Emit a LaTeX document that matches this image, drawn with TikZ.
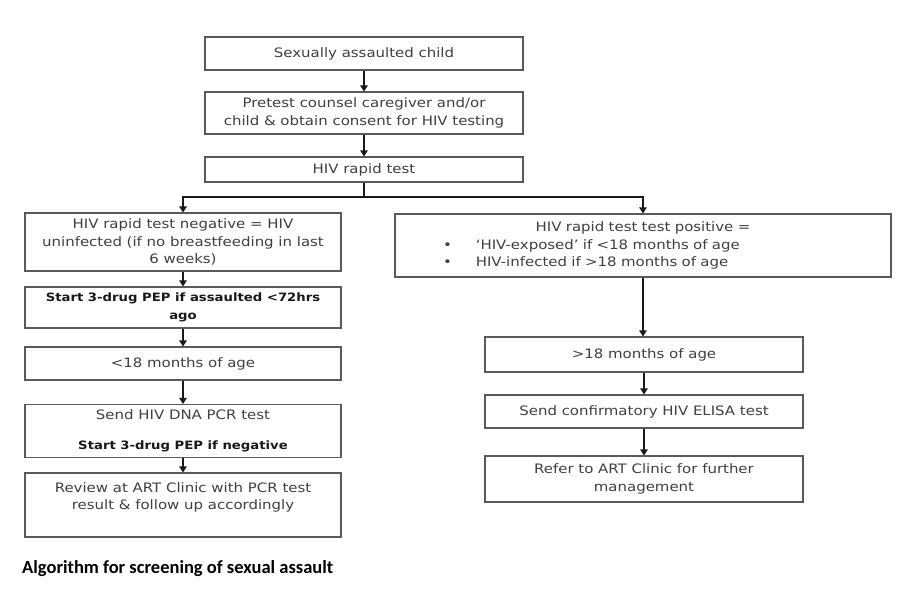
\documentclass[tikz,border=0pt]{standalone}
\usepackage{fontspec}
\setmainfont{DejaVu Sans}[FakeStretch=1.15]
\newfontfamily\capfont{Carlito}
\usetikzlibrary{arrows.meta}
\definecolor{txt}{HTML}{404040}
\definecolor{edge}{HTML}{5A5A5A}
\definecolor{arr}{HTML}{1A1A1A}
\newcommand{\strongtxt}[1]{{\fontsize{11.5}{17.5}\selectfont\color{black!90}\bfseries #1}}
\begin{document}
\begin{tikzpicture}[x=1pt,y=-1pt,
  box/.style={draw=edge, line width=1.1pt, fill=white, rectangle, inner sep=3pt,
    align=center, text=txt, font=\fontsize{13}{17.5}\selectfont},
  conn/.style={draw=arr, line width=1.2pt},
  arrw/.style={conn, -{Triangle[length=6pt,width=7.5pt]}}]
\useasboundingbox (0,0) rectangle (900,600);
% top column
\node[box, minimum width=318pt, minimum height=33pt] (n1) at (364,53.5) {Sexually assaulted child};
\node[box, minimum width=318pt, minimum height=42pt] (n2) at (364,113) {Pretest counsel caregiver and/or\\child \& obtain consent for HIV testing};
\node[box, minimum width=318pt, minimum height=25pt] (n3) at (364,169.5) {HIV rapid test};
% left column
\node[box, minimum width=316pt, minimum height=58pt] (l1) at (183,242) {HIV rapid test negative = HIV\\uninfected (if no breastfeeding in last\\6 weeks)};
\node[box, minimum width=316pt, minimum height=41pt] (l2) at (183,307.5) {\strongtxt{Start 3-drug PEP if assaulted <72hrs}\\\strongtxt{ago}};
\node[box, minimum width=316pt, minimum height=33pt] (l3) at (183,363.5) {<18 months of age};
\node[box, minimum width=316pt, minimum height=53pt] (l4) at (183,431) {Send HIV DNA PCR test\\[13pt]\strongtxt{Start 3-drug PEP if negative}};
\node[box, minimum width=316pt, minimum height=64pt] (l5) at (183,505) {Review at ART Clinic with PCR test\\result \& follow up accordingly\\\mbox{}};
% right column
\node[box, minimum width=496pt, minimum height=63pt, text width=488pt] (r1) at (643,245.5) {HIV rapid test test positive =\\
\makebox[488pt][l]{\hspace{44pt}\textbullet\hspace{24pt}‘HIV-exposed’ if <18 months of age}\\
\makebox[488pt][l]{\hspace{44pt}\textbullet\hspace{24pt}HIV-infected if >18 months of age}};
\node[box, minimum width=318pt, minimum height=35pt] (r2) at (644,354.5) {>18 months of age};
\node[box, minimum width=318pt, minimum height=33pt] (r3) at (644,411.5) {Send confirmatory HIV ELISA test};
\node[box, minimum width=318pt, minimum height=46pt] (r4) at (644,479) {Refer to ART Clinic for further\\management};
% caption
\node[anchor=west, inner sep=0pt, font=\capfont\bfseries\fontsize{18.5}{22}\selectfont, text=black] (cap) at (22,569) {Algorithm for screening of sexual assault};
% connectors
\coordinate (j) at (364,197);
\draw[arrw] (n1) -- (n2);
\draw[arrw] (n2) -- (n3);
\draw[conn] (n3.south) -- (j);
\draw[arrw] (j) -| (l1.north);
\draw[arrw] (j) -| (r1.north);
\draw[arrw] (l1) -- (l2);
\draw[arrw] (l2) -- (l3);
\draw[arrw] (l3) -- (l4);
\draw[arrw] (l4) -- (l5);
\draw[arrw] (r1.south) -- (r2.north -| r1.south);
\draw[arrw] (r2) -- (r3);
\draw[arrw] (r3) -- (r4);
\end{tikzpicture}
\end{document}
